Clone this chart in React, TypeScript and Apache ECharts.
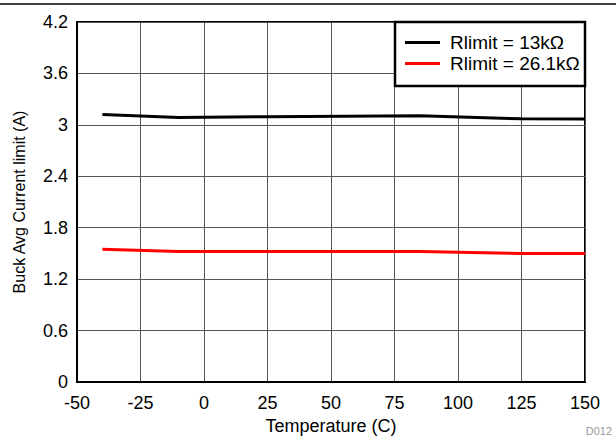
import React, { useEffect, useRef } from "react";
import * as echarts from "echarts";

const temps = [-40, -10, 25, 85, 125, 150];
const r13 = [3.12, 3.085, 3.095, 3.105, 3.07, 3.068];
const r261 = [1.548, 1.522, 1.522, 1.522, 1.5, 1.498];
const seriesNames = ["Rlimit = 13k\u03A9", "Rlimit = 26.1k\u03A9"];
const seriesColors = ["#000000", "#ff0000"];
const xTicks = [-50, 150, 25];
const yTicks = [0, 4.2, 0.6];

export default function App() {
  const ref = useRef<HTMLDivElement>(null);
  useEffect(() => {
    const chart = echarts.init(ref.current!, undefined, { renderer: "svg" });
    const font = "Liberation Sans, Arial, sans-serif";
    chart.setOption({
      animation: false,
      grid: {
        left: 77, right: 31, top: 22, bottom: 59,
        outerBoundsMode: "none", containLabel: false,
        show: true, borderColor: "#000", borderWidth: 2, backgroundColor: "transparent",
      },
      xAxis: {
        type: "value", min: xTicks[0], max: xTicks[1], interval: xTicks[2],
        name: "Temperature (C)", nameLocation: "middle", nameGap: 32,
        nameTextStyle: { fontFamily: font, fontSize: 18, color: "#000" },
        axisLine: { show: true, onZero: false, lineStyle: { color: "#000", width: 2 } },
        axisTick: { show: false },
        axisLabel: { fontFamily: font, fontSize: 18, color: "#000", margin: 12 },
        splitLine: { show: true, lineStyle: { color: "#555", width: 1 } },
      },
      yAxis: {
        type: "value", min: yTicks[0], max: yTicks[1], interval: yTicks[2],
        name: "Buck Avg Current limit (A)", nameLocation: "middle", nameGap: 50,
        nameTextStyle: { fontFamily: font, fontSize: 16, color: "#000" },
        axisLine: { show: true, onZero: false, lineStyle: { color: "#000", width: 2 } },
        axisTick: { show: false },
        axisLabel: {
          fontFamily: font, fontSize: 18, color: "#000", margin: 9,
          formatter: (v: number) => String(Math.round(v * 10) / 10),
        },
        splitLine: { show: true, lineStyle: { color: "#555", width: 1 } },
      },
      legend: {
        orient: "vertical", left: 400, top: 28, z: 100,
        itemWidth: 35, itemHeight: 3, itemGap: 2,
        icon: "rect",
        textStyle: { fontFamily: font, fontSize: 19, color: "#000", padding: [0, 0, 0, 5] },
        data: seriesNames.map((n) => ({ name: n })),
      },
      graphic: [
        {
          type: "rect", z: 50, shape: { x: 395, y: 22, width: 190, height: 64 },
          style: { fill: "#fff", stroke: "#000", lineWidth: 2.5 },
        },
        {
          type: "line", z: 50, shape: { x1: 0, y1: 4, x2: 616, y2: 4 },
          style: { stroke: "#000", lineWidth: 1.5 },
        },
        {
          type: "text", z: 50, right: 4, top: 425,
          style: { text: "D012", fontFamily: font, fontSize: 11, fill: "#999" },
        },
      ],
      series: [
        {
          name: seriesNames[0], type: "line", showSymbol: false, symbol: "none",
          data: temps.map((t, i) => [t, r13[i]]),
          lineStyle: { color: seriesColors[0], width: 3 }, itemStyle: { color: seriesColors[0] },
        },
        {
          name: seriesNames[1], type: "line", showSymbol: false, symbol: "none",
          data: temps.map((t, i) => [t, r261[i]]),
          lineStyle: { color: seriesColors[1], width: 3 }, itemStyle: { color: seriesColors[1] },
        },
      ],
    });
    return () => chart.dispose();
  }, []);
  return (
    <div
      ref={ref}
      style={{ position: "fixed", left: 0, top: 0, width: 616, height: 441, background: "#fff" }}
    />
  );
}
